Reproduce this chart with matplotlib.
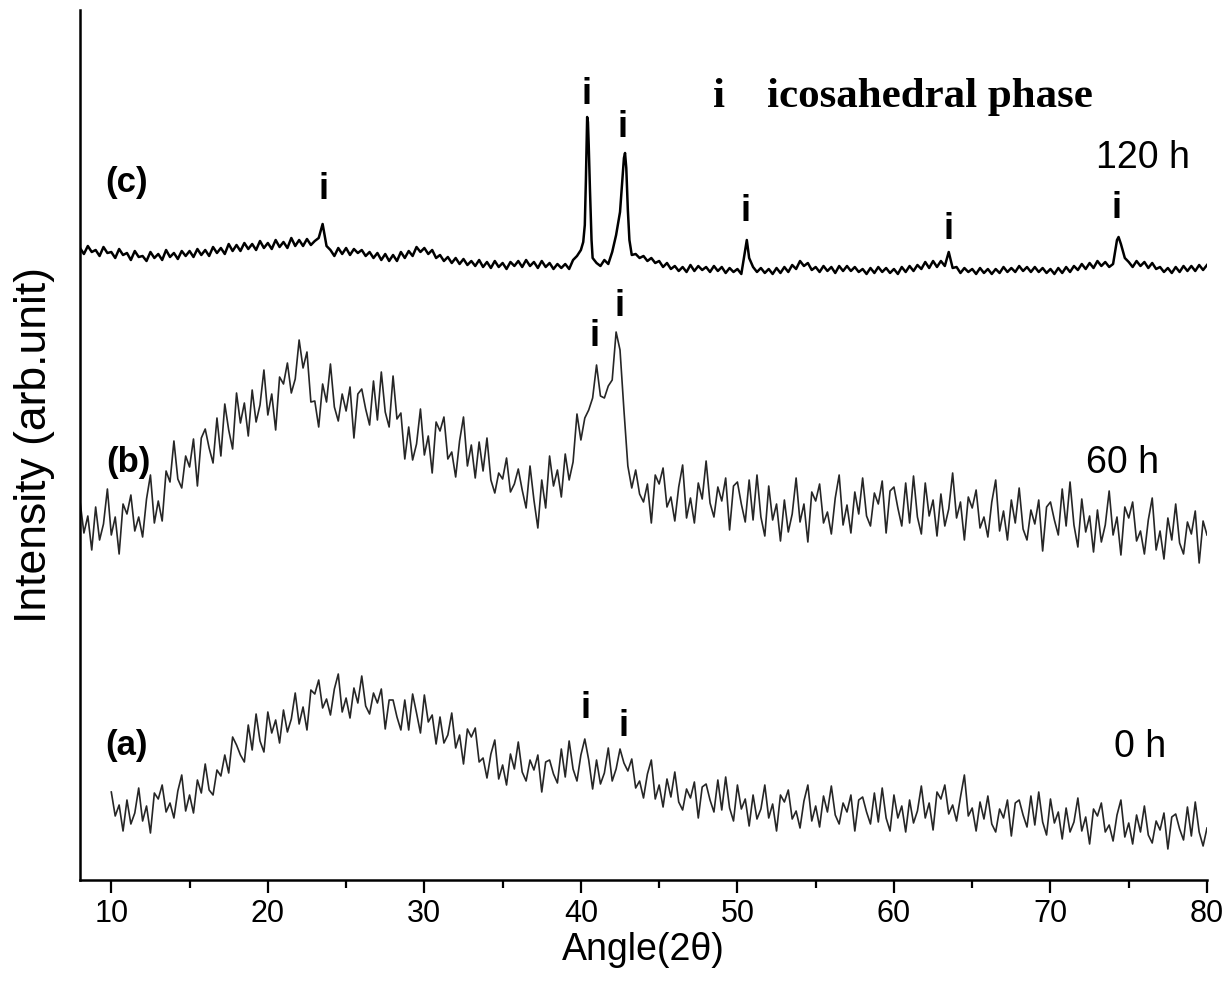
import numpy as np
import matplotlib
matplotlib.use("Agg")
import matplotlib.pyplot as plt
from matplotlib.ticker import MultipleLocator

# ---------------- data (intensity, arb. units) -------------
step = 0.25
angle_a = np.arange(10, 80.001, step)
angle_bc = np.arange(8, 80.001, step)

# 0 h  (one row = one degree, 0.25 deg scan step)
intensity_a = [
    88, 64, 75, 49,   80, 56, 67, 92,   59, 74, 47, 87,   81, 95, 68, 77,
    62, 89, 105, 69,  85, 67, 100, 87,  116, 90, 85, 110, 104, 125, 107, 143,
    135, 125, 118, 155, 130, 166, 139, 128, 168, 147, 160, 137, 170, 148, 161, 187,
    156, 173, 150, 190, 186, 200, 172, 181, 165, 191, 206, 168, 182, 162, 192, 177,
    204, 174, 166, 187, 177, 191, 151, 180, 180, 163, 150, 180, 150, 186, 167, 147,
    185, 158, 165, 136, 163, 137, 145, 167, 132, 145, 116, 151, 143, 152, 118, 122,
    102, 126, 140, 101, 115, 95, 126, 111, 138, 108, 99, 120, 110, 125, 88, 118,
    120, 106, 97, 131, 103, 139, 111, 99, 125, 141, 120, 91, 120, 96, 107, 132,
    99, 111, 131, 117, 109, 121, 92, 99, 82, 106, 120, 81, 95, 73, 101, 83,
    108, 78, 70, 91,  82, 98, 62, 93,   96, 80, 68, 100,  70, 103, 72, 59,
    95, 71, 81, 54,   85, 61, 71, 95,   62, 76, 49, 85,   78, 90, 61, 69,
    52, 79, 95, 59,   74, 53, 84, 68,   94, 65, 56, 77,   68, 85, 49, 80,
    83, 68, 56, 87,   58, 92, 62, 49,   85, 62, 74, 48,   80, 57, 69, 94,
    62, 77, 50, 88,   81, 95, 66, 75,   59, 83, 105, 64,  72, 49, 78, 61,
    84, 56, 48, 71,   62, 80, 44, 77,   80, 65, 53, 84,   55, 88, 58, 45,
    81, 57, 68, 41,   72, 48, 58, 82,   49, 63, 36, 71,   64, 77, 48, 55,
    39, 65, 80, 43,   57, 36, 65, 48,   74, 45, 37, 59,   50, 67, 31, 63,
    66, 51, 40, 73,   44, 78, 48, 34,
    52,
]

# 60 h
intensity_b = [
    379, 347, 364, 330, 373, 340, 356, 391, 345, 363, 326, 376, 366, 385, 349, 363,
    343, 381, 405, 357, 379, 359, 409, 398, 439, 401, 392, 424, 413, 441, 394, 442,
    451, 432, 417, 462, 424, 476, 450, 431, 487, 457, 477, 444, 490, 458, 475, 510,
    465, 486, 450, 503, 496, 517, 487, 501, 540, 512, 528, 478, 479, 453, 496, 478,
    516, 473, 459, 486, 469, 493, 442, 486, 491, 471, 455, 499, 460, 508, 468, 453,
    504, 461, 467, 421, 453, 420, 436, 471, 425, 444, 407, 458, 449, 463, 421, 428,
    403, 439, 463, 414, 435, 402, 438, 409, 442, 400, 387, 407, 401, 422, 388, 396,
    411, 390, 372, 414, 380, 352, 400, 372, 424, 394, 410, 383, 426, 400, 418, 466,
    440, 462, 470, 482, 515, 484, 482, 494, 500, 548, 530, 470, 414, 392, 410, 386,
    378, 396, 357, 405, 396, 412, 373, 383, 359, 393, 415, 362, 382, 357, 397, 381,
    419, 377, 363, 393, 379, 402, 350, 394, 398, 376, 358, 400, 360, 405, 363, 344,
    394, 360, 376, 339, 380, 348, 366, 402, 358, 376, 338, 388, 379, 396, 357, 368,
    346, 382, 405, 355, 375, 347, 388, 366, 402, 364, 354, 387, 376, 399, 347, 389,
    393, 372, 354, 397, 357, 404, 363, 346, 397, 364, 380, 344, 386, 354, 371, 407,
    362, 378, 340, 383, 372, 390, 352, 363, 343, 378, 400, 349, 369, 340, 380, 357,
    392, 351, 340, 370, 356, 380, 329, 373, 378, 360, 345, 391, 354, 398, 355, 333,
    381, 348, 364, 328, 370, 338, 355, 389, 345, 363, 325, 373, 362, 378, 339, 349,
    326, 360, 382, 330, 349, 321, 362, 340, 376, 337, 326, 358, 346, 369, 317, 359,
    345,
]

# 120 h
intensity_c = [
    632, 626, 634, 628, 630, 624, 633, 627, 628, 622, 631, 625, 627, 620, 629, 623,
    624, 619, 628, 622, 626, 620, 630, 623, 627, 621, 629, 624, 629, 623, 631, 625,
    630, 624, 633, 627, 632, 626, 636, 629, 635, 629, 637, 631, 636, 630, 639, 632,
    637, 631, 640, 633, 638, 632, 642, 634, 640, 634, 641, 635, 639, 642, 656, 634,
    630, 624, 632, 626, 632, 625, 631, 627, 630, 624, 628, 622, 627, 620, 626, 619,
    625, 619, 628, 622, 629, 624, 633, 628, 632, 626, 630, 622, 625, 619, 623, 617,
    622, 616, 621, 615, 619, 614, 620, 613, 618, 612, 619, 613, 617, 611, 618, 614,
    619, 613, 620, 614, 618, 612, 619, 613, 617, 611, 616, 612, 616, 611, 620, 624,
    630, 655, 735, 622, 617, 614, 620, 616, 628, 645, 668, 722, 670, 625, 626, 622,
    624, 619, 622, 617, 619, 613, 617, 611, 614, 609, 613, 608, 615, 609, 614, 610,
    613, 608, 614, 609, 613, 607, 612, 608, 611, 606, 630, 622, 613, 608, 612, 607,
    611, 606, 612, 607, 613, 608, 615, 611, 619, 614, 617, 610, 613, 608, 614, 609,
    613, 607, 614, 609, 614, 609, 613, 608, 611, 606, 612, 607, 613, 608, 612, 607,
    611, 606, 613, 608, 614, 609, 615, 611, 618, 612, 619, 613, 619, 614, 628, 612,
    613, 607, 612, 608, 611, 606, 612, 607, 611, 606, 611, 607, 613, 608, 612, 608,
    614, 609, 613, 608, 613, 608, 612, 607, 611, 606, 612, 607, 613, 608, 614, 610,
    616, 611, 617, 612, 619, 614, 618, 613, 616, 640, 636, 622, 618, 613, 619, 614,
    618, 612, 617, 611, 613, 608, 612, 607, 613, 608, 614, 609, 614, 609, 615, 610,
    615,
]

# finer points on the sharp peaks of the 120 h pattern
peak_angle_c = [40.15, 40.32, 40.40, 40.45, 40.58, 40.68,
                42.65, 42.82, 42.90, 43.10, 50.60, 74.35]
peak_intensity_c = [638, 700, 763, 758, 690, 640,
                    700, 727, 712, 640, 640, 643]

series_labels = ["(a)", "(b)", "(c)"]
time_labels = ["0 h", "60 h", "120 h"]
x_ticks = [10, 20, 30, 40, 50, 60, 70, 80]

# ---------------- figure ----------------
fig = plt.figure(figsize=(12.3, 9.91), dpi=100)
ax = fig.add_axes([80 / 1230, 111 / 991, 1127 / 1230, 870 / 991])

ang_c = np.concatenate([angle_bc, peak_angle_c])
int_c = np.concatenate([np.asarray(intensity_c, float), peak_intensity_c])
order = np.argsort(ang_c, kind="stable")

ax.plot(angle_a, intensity_a, color="#262626", lw=1.2)
ax.plot(angle_bc, intensity_b, color="#262626", lw=1.2)
ax.plot(ang_c[order], int_c[order], color="black", lw=1.8)

ax.set_xlim(8, 80)
ax.set_ylim(0, 870)
ax.spines["top"].set_visible(False)
ax.spines["right"].set_visible(False)
ax.spines["left"].set_linewidth(1.8)
ax.spines["bottom"].set_linewidth(1.8)
ax.set_yticks([])
ax.set_xticks(x_ticks)
ax.xaxis.set_minor_locator(MultipleLocator(5))
ax.tick_params(axis="x", which="major", direction="out", length=9, width=1.6,
               labelsize=22, pad=5)
ax.tick_params(axis="x", which="minor", direction="out", length=6, width=1.6)
for lab in ax.get_xticklabels():
    lab.set_fontfamily("Liberation Sans")

ax.set_xlabel("Angle(2\u03b8)", fontsize=27, family="Liberation Sans", labelpad=2)
ax.set_ylabel("Intensity (arb.unit)", fontsize=32, family="Liberation Sans")
ax.yaxis.set_label_coords(-0.022, 0.5)

sans = "Liberation Sans"
# series letters
for lab, (x, y) in zip(series_labels, [(11.0, 135), (11.1, 417), (11.0, 697)]):
    ax.text(x, y, lab, fontsize=25, fontweight="bold", family=sans,
            ha="center", va="center")
# times
for lab, (x, y) in zip(time_labels, [(75.7, 133), (74.6, 417), (75.9, 722)]):
    ax.text(x, y, lab, fontsize=27, family=sans, ha="center", va="center")

# phase markers
marker_pos = [(23.54, 690), (40.33, 785), (42.63, 752), (50.49, 668), (63.51, 650),
              (74.24, 671), (40.9, 543), (42.44, 573), (40.27, 172), (42.7, 153)]
for x, y in marker_pos:
    ax.text(x, y, "i", fontsize=26, fontweight="bold", family=sans,
            ha="center", va="center")

# legend text
ax.text(48.8, 783, "i", fontsize=31, fontweight="bold", family="Liberation Serif",
        ha="center", va="center")
ax.text(62.3, 783, "icosahedral phase", fontsize=31, fontweight="bold",
        family="Liberation Serif", ha="center", va="center")

fig.savefig("out.png", dpi=100)
